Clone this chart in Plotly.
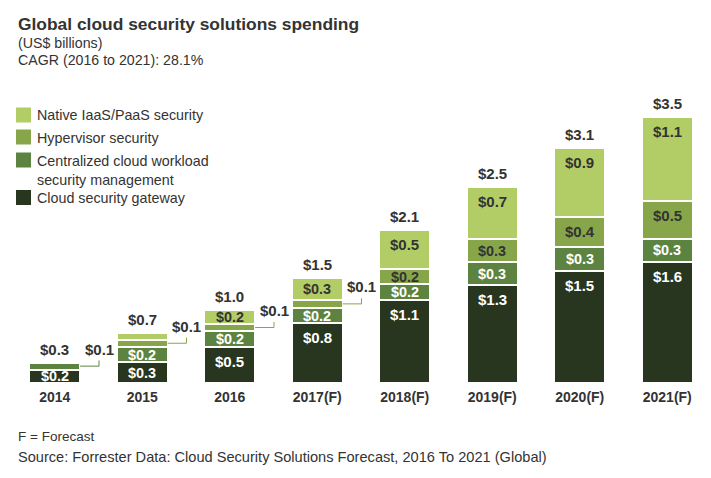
import plotly.graph_objects as go

# ---------------- data ----------------
years = ["2014", "2015", "2016", "2017(F)", "2018(F)", "2019(F)", "2020(F)", "2021(F)"]
series_names = ["Cloud security gateway",
                "Centralized cloud workload<br>security management",
                "Hypervisor security",
                "Native IaaS/PaaS security"]
gateway = [0.18, 0.28, 0.48, 0.80, 1.11, 1.31, 1.50, 1.62]
centralized = [0.09, 0.20, 0.21, 0.20, 0.21, 0.30, 0.31, 0.30]
hypervisor = [0.00, 0.10, 0.10, 0.11, 0.20, 0.31, 0.41, 0.51]
native = [0.00, 0.09, 0.19, 0.29, 0.52, 0.70, 0.91, 1.12]
totals = [0.3, 0.7, 1.0, 1.5, 2.1, 2.5, 3.1, 3.5]

title = "Global cloud security solutions spending"
subtitle1 = "(US$ billions)"
subtitle2 = "CAGR (2016 to 2021): 28.1%"
footnote1 = "F = Forecast"
footnote2 = "Source: Forrester Data: Cloud Security Solutions Forecast, 2016 To 2021 (Global)"

# ---------------- style ----------------
colors = ["#28361f", "#5d8341", "#87a64a", "#b3cd66"]
label_colors = ["#ffffff", "#ffffff", "#333333", "#333333"]
FONT = "Liberation Sans, Arial, Helvetica, sans-serif"
TXT = "#333333"
W, H = 711, 478
ML, MR, MT, MB = 11, 0, 83, 95
PW, PH = W - ML - MR, H - MT - MB
BAR_W = 0.58
LBL = 15
LBL_IN = 14.4


def px_x(px):
    return (px - ML) / PW


def px_y(py):
    return (H - MB - py) / PH


series = [gateway, centralized, hypervisor, native]
xs = list(range(len(years)))

fig = go.Figure()
for name, vals, col in zip(series_names, series, colors):
    fig.add_trace(go.Bar(
        x=xs, y=[v if v > 0 else None for v in vals], name=name,
        width=BAR_W, marker=dict(color=col, line=dict(color="white", width=2)),
        showlegend=False, hoverinfo="skip"))

annotations = []
shapes = []
for i in xs:
    base = 0.0
    callout_done = False
    for s, vals in enumerate(series):
        v = vals[i]
        if v <= 0:
            continue
        txt = "$%.1f" % v
        if v >= 0.4:
            annotations.append(dict(x=i, y=base + v, xref="x", yref="y", text=txt,
                                    showarrow=False, yanchor="top", yshift=-4,
                                    font=dict(family=FONT, size=LBL, color=label_colors[s], weight="bold")))
        elif v >= 0.15:
            annotations.append(dict(x=i, y=base + v / 2, xref="x", yref="y", text=txt,
                                    showarrow=False, yanchor="middle",
                                    font=dict(family=FONT, size=LBL_IN, color=label_colors[s], weight="bold")))
        elif not callout_done:
            callout_done = True
            yc = base + v / 2
            xe = i + BAR_W / 2
            xl = i + 0.506
            yt = yc + 0.075
            shapes.append(dict(type="line", xref="x", yref="y", x0=xe, x1=xl, y0=yc, y1=yc,
                               line=dict(color=colors[s], width=1)))
            shapes.append(dict(type="line", xref="x", yref="y", x0=xl, x1=xl, y0=yc, y1=yt,
                               line=dict(color=colors[s], width=1)))
            annotations.append(dict(x=xl, y=yt, xref="x", yref="y", text=txt,
                                    showarrow=False, yanchor="bottom", yshift=1,
                                    font=dict(family=FONT, size=LBL, color=TXT, weight="bold")))
        base += v
    annotations.append(dict(x=i, y=base, xref="x", yref="y", text="$%.1f" % totals[i],
                            showarrow=False, yanchor="bottom", yshift=3,
                            font=dict(family=FONT, size=LBL, color=TXT, weight="bold")))

# titles
annotations.append(dict(x=px_x(16), y=px_y(24), xref="paper", yref="paper", text=title,
                        showarrow=False, xanchor="left", yanchor="middle",
                        font=dict(family=FONT, size=17.4, color=TXT, weight="bold")))
annotations.append(dict(x=px_x(16), y=px_y(43), xref="paper", yref="paper", text=subtitle1,
                        showarrow=False, xanchor="left", yanchor="middle",
                        font=dict(family=FONT, size=14.2, color=TXT)))
annotations.append(dict(x=px_x(16), y=px_y(60), xref="paper", yref="paper", text=subtitle2,
                        showarrow=False, xanchor="left", yanchor="middle",
                        font=dict(family=FONT, size=14.2, color=TXT)))
annotations.append(dict(x=px_x(16), y=px_y(436), xref="paper", yref="paper", text=footnote1,
                        showarrow=False, xanchor="left", yanchor="middle",
                        font=dict(family=FONT, size=13.5, color=TXT)))
annotations.append(dict(x=px_x(16), y=px_y(457), xref="paper", yref="paper", text=footnote2,
                        showarrow=False, xanchor="left", yanchor="middle",
                        font=dict(family=FONT, size=14.6, color=TXT)))

# manual legend (top to bottom)
legend_centers = [115, 137, 160, 197.5]
legend_order = [3, 2, 1, 0]
for c, s in zip(legend_centers, legend_order):
    shapes.append(dict(type="rect", xref="paper", yref="paper",
                       x0=px_x(16), x1=px_x(31), y0=px_y(c + 7.5), y1=px_y(c - 7.5),
                       fillcolor=colors[s], line=dict(width=0)))
    annotations.append(dict(x=px_x(35), y=px_y(c - 9.5), xref="paper", yref="paper",
                            text=series_names[s], showarrow=False, xanchor="left",
                            yanchor="top", align="left",
                            font=dict(family=FONT, size=14.3, color=TXT)))

fig.update_layout(
    width=W, height=H, margin=dict(l=ML, r=MR, t=MT, b=MB),
    barmode="stack", plot_bgcolor="white", paper_bgcolor="white",
    font=dict(family=FONT, color=TXT),
    xaxis=dict(range=[-0.5, len(years) - 0.5], tickvals=xs, ticktext=years,
               showgrid=False, zeroline=False, showline=False, ticks="",
               ticklabelstandoff=4,
               tickfont=dict(family=FONT, size=14, color=TXT, weight="bold"),
               fixedrange=True),
    yaxis=dict(range=[0, 4], visible=False, fixedrange=True),
    annotations=annotations, shapes=shapes,
)

fig.write_html("out.html", config={"displayModeBar": False})
